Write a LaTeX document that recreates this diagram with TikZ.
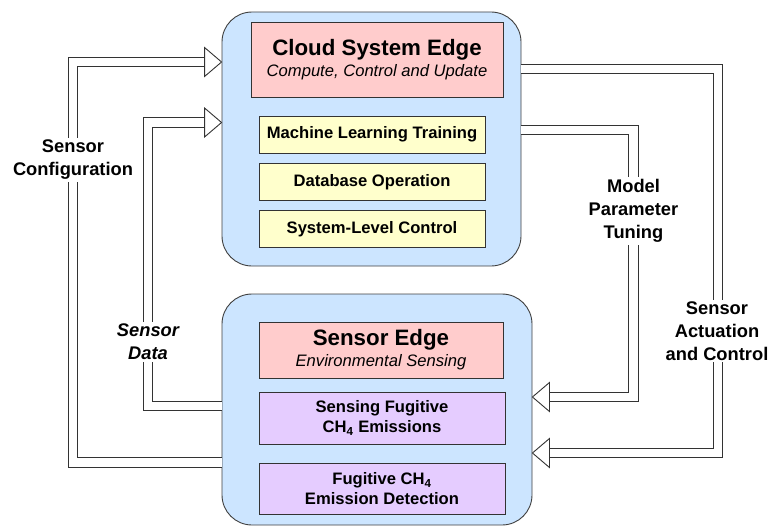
\documentclass[tikz,border=0pt]{standalone}
\usepackage{fontspec}
\setmainfont{Liberation Sans}
\usetikzlibrary{positioning}

\definecolor{edgeblue}{HTML}{CCE5FF}
\definecolor{headpink}{HTML}{FFCCCC}
\definecolor{taskyellow}{HTML}{FFFFCC}
\definecolor{taskviolet}{HTML}{E5CCFF}

\begin{document}
\begin{tikzpicture}[x=1pt, y=-1pt,
		font=\fontsize{16.6}{20}\selectfont\bfseries,
		edgebox/.style={draw=black!75, line width=0.9pt, fill=edgeblue, rounded corners=30pt, inner sep=0pt},
		headbox/.style={draw=black!80, line width=0.9pt, fill=headpink, align=center, inner sep=0pt},
		taskbox/.style={draw=black!80, line width=0.9pt, align=center, inner sep=0pt, minimum width=226pt},
		pipe/.style={draw=black!80, line width=0.9pt, double=white, double distance=8.5pt},
		pipelabel/.style={fill=white, align=center, inner sep=2pt, font=\fontsize{18.3}{23}\selectfont\bfseries},
		head/.pic={\draw[draw=black!80, line width=0.9pt, fill=white] (-17,-14.5) -- (0,0) -- (-17,14.5) -- cycle;}]
		\useasboundingbox (0,0) rectangle (773,527);
		% Edges
		\node[edgebox, minimum width=299pt, minimum height=254pt] (cloud) at (371.5,139) {};
		\node[edgebox, minimum width=310pt, minimum height=231pt] (sensor) at (377,409.5) {};
		% Cloud edge contents
		\node[headbox, minimum width=252pt, minimum height=75pt] (cloudhead) at (377,59.5)
			{{\fontsize{22.3}{24}\selectfont Cloud System Edge}\\[1pt]{\mdseries\itshape Compute, Control and Update}};
		\node[taskbox, fill=taskyellow, minimum height=37pt] (mlt) at (372,134.5) {Machine Learning Training};
		\node[taskbox, fill=taskyellow, minimum height=37pt, below=10pt of mlt] (dbo) {Database Operation};
		\node[taskbox, fill=taskyellow, minimum height=37pt, below=9pt of dbo] (slc) {System-Level Control};
		% Sensor edge contents
		\node[headbox, minimum width=244pt, minimum height=56pt] (sensorhead) at (381,350)
			{{\fontsize{22.3}{24}\selectfont Sensor Edge}\\[1pt]{\mdseries\itshape Environmental Sensing}};
		\node[taskbox, fill=taskviolet, minimum width=246pt, minimum height=52pt] (sfe) at (382,418)
			{Sensing Fugitive\\CH\textsubscript{4} Emissions};
		\node[taskbox, fill=taskviolet, minimum width=246pt, minimum height=51pt] (fed) at (382,488.5)
			{Fugitive CH\textsubscript{4}\\Emission Detection};
		% Arrow tips
		\coordinate (cfgtip) at (cloud.west |- 0,62);
		\coordinate (datatip) at (cloud.west |- 0,122.5);
		\coordinate (tunetip) at (sensor.east |- 0,397);
		\coordinate (acttip) at (sensor.east |- 0,453);
		% Pipes
		\draw[pipe] (sensor.west |- 0,462.5) -| (73,62) -- ([xshift=-17pt]cfgtip);
		\draw[pipe] (sensor.west |- 0,406) -| (148,122.5) -- ([xshift=-17pt]datatip);
		\draw[pipe] (cloud.east |- 0,130) -| (633.5,397) -- ([xshift=17pt]tunetip);
		\draw[pipe] (cloud.east |- 0,69) -| (718,453) -- ([xshift=17pt]acttip);
		\pic at (cfgtip) {head};
		\pic at (datatip) {head};
		\pic[rotate=180] at (tunetip) {head};
		\pic[rotate=180] at (acttip) {head};
		% Pipe labels
		\node[pipelabel] (cfglabel) at (73,160) {Sensor\\Configuration};
		\node[pipelabel, font=\fontsize{18.3}{23}\selectfont\bfseries\itshape] (datalabel) at (148,342) {Sensor\\Data};
		\node[pipelabel] (tunelabel) at (633.5,211) {Model\\Parameter\\Tuning};
		\node[pipelabel] (actlabel) at (717,331) {Sensor\\Actuation\\and Control};
	\end{tikzpicture}
\end{document}
